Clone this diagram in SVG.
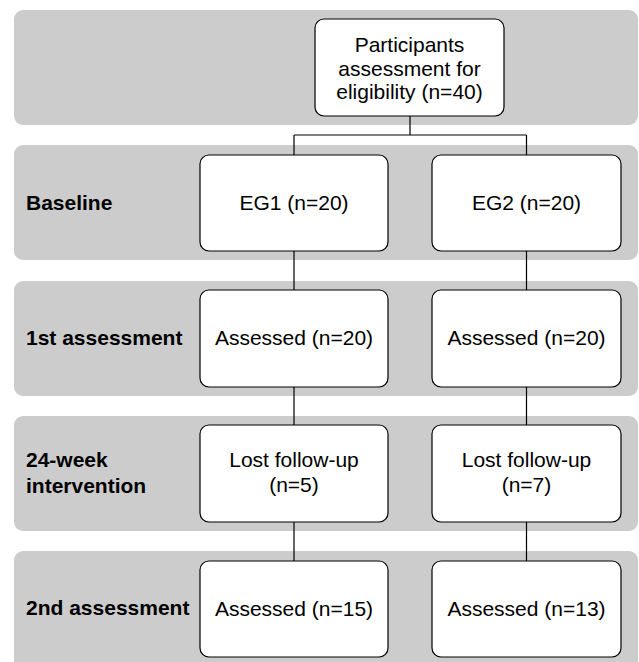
<svg xmlns="http://www.w3.org/2000/svg" width="639" height="662" viewBox="0 0 639 662">
<style>
.band{fill:#cccccc;stroke:none}
.box{fill:#ffffff;stroke:#000000;stroke-width:1.2}
.t{font-family:"Liberation Sans",Arial,sans-serif;font-size:21px;fill:#000;text-anchor:middle}
.lb{font-family:"Liberation Sans",Arial,sans-serif;font-size:21px;font-weight:bold;fill:#000}
.c{fill:none;stroke:#000;stroke-width:1.2}
</style>
<rect width="639" height="662" fill="#ffffff"/>
<g id="bands">
<rect class="band" x="14" y="10" width="624" height="115" rx="9"/>
<rect class="band" x="14" y="145" width="624" height="115" rx="9"/>
<rect class="band" x="14" y="281" width="624" height="115" rx="9"/>
<rect class="band" x="14" y="416" width="624" height="115" rx="9"/>
<rect class="band" x="14" y="551" width="624" height="120" rx="9"/>
</g>
<g id="labels">
<text class="lb" x="26" y="210">Baseline</text>
<text class="lb" x="26" y="345">1st assessment</text>
<text class="lb" x="26" y="467">24-week</text>
<text class="lb" x="26" y="493">intervention</text>
<text class="lb" x="26" y="615">2nd assessment</text>
</g>
<g id="connectors">
<path class="c" d="M410 116V135M294 135H526.5M294 135V155M526.5 135V155"/>
<path class="c" d="M294 251V290M526.5 251V290"/>
<path class="c" d="M294 387V425M526.5 387V425"/>
<path class="c" d="M294 522V561M526.5 522V561"/>
</g>
<g id="n0">
<rect class="box" x="315" y="19" width="189" height="97" rx="9"/>
<text class="t" x="409.5" y="52">Participants</text>
<text class="t" x="409.5" y="75.5">assessment for</text>
<text class="t" x="409.5" y="99">eligibility (n=40)</text>
</g>
<g id="eg1">
<rect class="box" x="200" y="155" width="188" height="96" rx="9"/>
<text class="t" x="294" y="210">EG1 (n=20)</text>
</g>
<g id="eg2">
<rect class="box" x="432" y="155" width="189" height="96" rx="9"/>
<text class="t" x="526.5" y="210">EG2 (n=20)</text>
</g>
<g id="a1">
<rect class="box" x="200" y="290" width="188" height="97" rx="9"/>
<text class="t" x="294" y="345">Assessed (n=20)</text>
</g>
<g id="a2">
<rect class="box" x="432" y="290" width="189" height="97" rx="9"/>
<text class="t" x="526.5" y="345">Assessed (n=20)</text>
</g>
<g id="l1">
<rect class="box" x="200" y="425" width="188" height="97" rx="9"/>
<text class="t" x="294" y="467">Lost follow-up</text>
<text class="t" x="294" y="492">(n=5)</text>
</g>
<g id="l2">
<rect class="box" x="432" y="425" width="189" height="97" rx="9"/>
<text class="t" x="526.5" y="467">Lost follow-up</text>
<text class="t" x="526.5" y="492">(n=7)</text>
</g>
<g id="s1">
<rect class="box" x="200" y="561" width="188" height="96" rx="9"/>
<text class="t" x="294" y="616">Assessed (n=15)</text>
</g>
<g id="s2">
<rect class="box" x="432" y="561" width="189" height="96" rx="9"/>
<text class="t" x="526.5" y="616">Assessed (n=13)</text>
</g>
</svg>
